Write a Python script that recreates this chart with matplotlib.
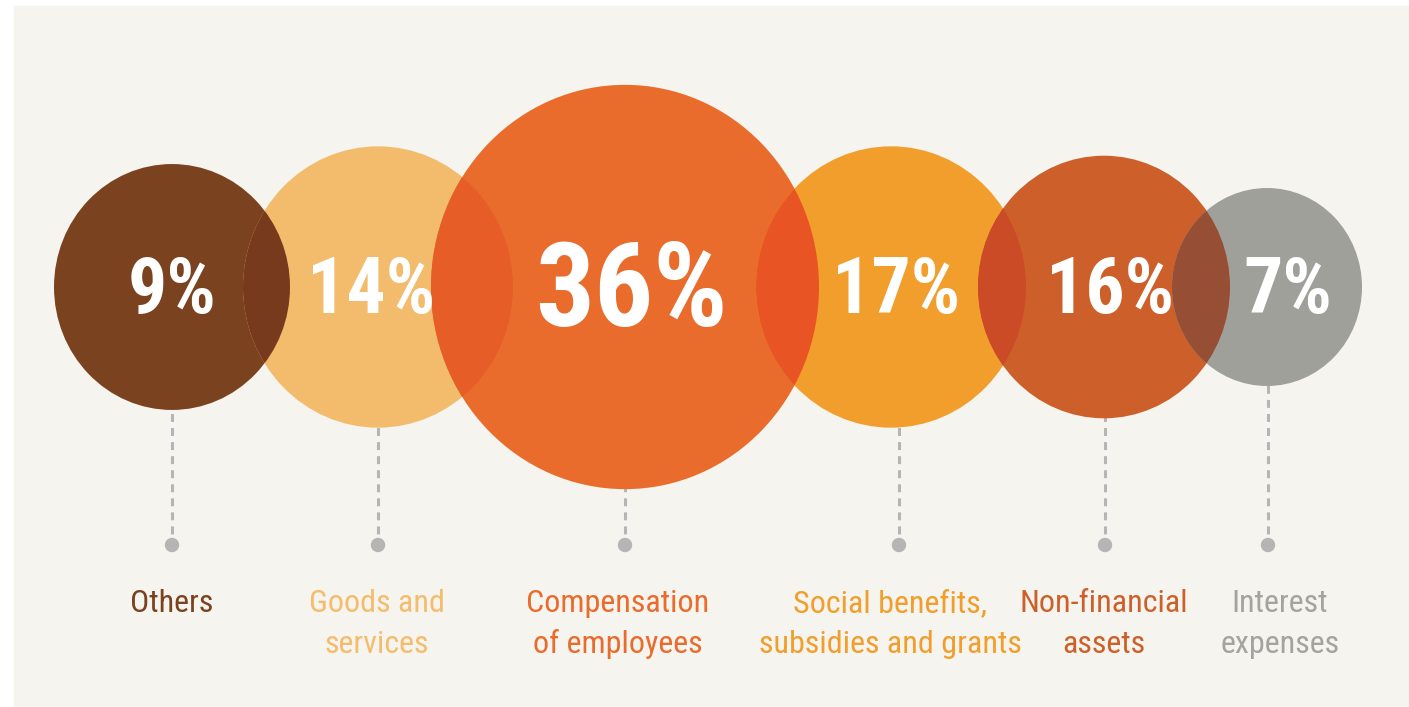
import matplotlib
matplotlib.use("Agg")
import matplotlib.pyplot as plt
from matplotlib.patches import Ellipse, Rectangle

# data
categories = ["Others", "Goods and\nservices", "Compensation\nof employees",
              "Social benefits,\nsubsidies and grants", "Non-financial\nassets",
              "Interest\nexpenses"]
shares = [9, 14, 36, 17, 16, 7]
colors = ["#7b4220", "#f3bb6c", "#ea6c2c", "#f19e2c", "#cd602a", "#a0a09b"]
label_colors = ["#7b4220", "#f5bc6e", "#ea6c2c", "#f19e2c", "#cd602a", "#a3a3a0"]
overlap_colors = ["#783a1c", "#e65d27", "#e95424", "#cb4b26", "#964f35"]

# layout (pixels)
W, H = 1409, 707
cx = [172, 378, 625, 891, 1104, 1267]
rad = [118, 135, 194, 135, 126, 95]
stretch = 1.042
cy = 287
line_x = [172, 378, 625, 899, 1105, 1268]
pct_x = [172, 371, 631, 896, 1110, 1288]
lab_x = [172, 377, 618, 890, 1104, 1280]
dot_y = 545

fonts = ["Liberation Sans Narrow", "Roboto Condensed", "DejaVu Sans Condensed",
         "Liberation Sans", "DejaVu Sans"]
plt.rcParams["font.family"] = fonts

fig = plt.figure(figsize=(W / 100, H / 100), dpi=100)
fig.patch.set_facecolor("white")
ax = fig.add_axes([0, 0, 1, 1])
ax.set_xlim(0, W)
ax.set_ylim(H, 0)
ax.axis("off")

ax.add_patch(Rectangle((14, 6), W - 15, H - 6, color="#f5f4ee", zorder=0))

# dashed leader lines + dots
for x in line_x:
    ax.plot([x, x], [cy, dot_y], color="#b5b5b5", lw=2.2,
            linestyle=(0, (2.6, 2.0)), zorder=1, solid_capstyle="butt")
    ax.add_patch(Ellipse((x, dot_y), 13, 13, color="#b5b5b5", zorder=1))

# circles
circles = []
for i in range(len(shares)):
    e = Ellipse((cx[i], cy), 2 * rad[i], 2 * rad[i] * stretch,
                color=colors[i], lw=0, zorder=2)
    ax.add_patch(e)
    circles.append(e)

# overlaps
for i in range(len(shares) - 1):
    lens = Ellipse((cx[i + 1], cy), 2 * rad[i + 1], 2 * rad[i + 1] * stretch,
                   color=overlap_colors[i], lw=0, zorder=3)
    ax.add_patch(lens)
    lens.set_clip_path(circles[i])

# percent labels
for i, v in enumerate(shares):
    big = v == max(shares)
    ax.text(pct_x[i], 326 if big else 313, f"{v}%", color="white",
            fontsize=84 if big else 56, fontweight="bold",
            ha="center", va="baseline", zorder=5)

# category labels
for i, cat in enumerate(categories):
    for j, line in enumerate(cat.split("\n")):
        ax.text(lab_x[i], 612 + 41 * j, line, color=label_colors[i],
                fontsize=23, ha="center", va="baseline", zorder=5)

fig.savefig("out.png", dpi=100, facecolor=fig.get_facecolor())
